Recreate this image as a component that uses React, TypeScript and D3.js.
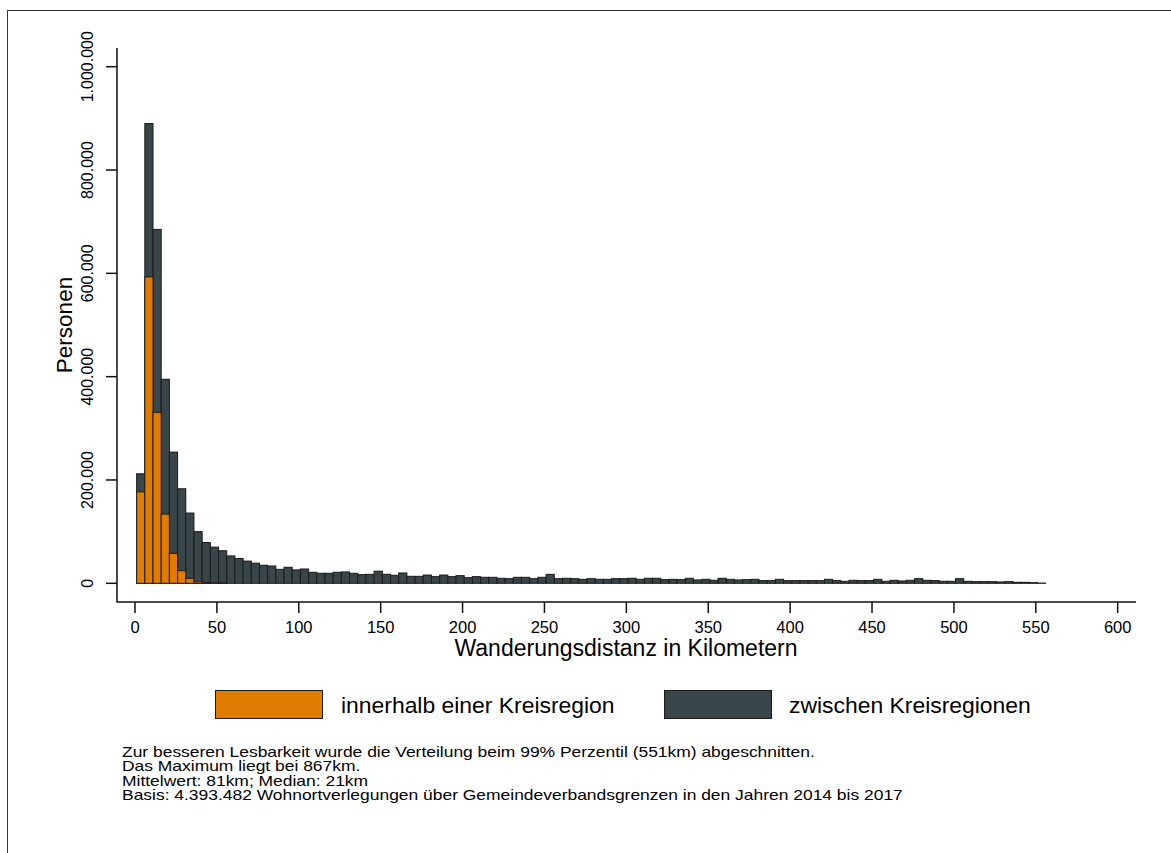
import React, { useEffect, useRef } from "react";
import * as d3 from "d3";

// 5 km bins, first bin starts at 1 km, cut at the 99% percentile
const binStart = 1;
const binWidth = 5;

// all moves per bin (persons)
const totalValues = [
  212000, 890000, 685000, 395000, 254000, 183000, 136000, 100000, 79000, 70000,
  63000, 53000, 48000, 43000, 39000, 35000, 33500, 27000, 31000, 26000,
  27700, 21300, 19400, 19400, 21300, 22000, 19400, 16800, 17400, 23500,
  17400, 15500, 20000, 13500, 13500, 16000, 12900, 16000, 12900, 14800,
  10900, 12900, 11600, 11600, 9700, 9000, 11600, 11600, 9000, 11600,
  17400, 9000, 9700, 9000, 7700, 9000, 7700, 7700, 9000, 9000,
  9700, 7700, 9700, 9700, 7100, 7700, 7100, 9700, 6500, 7700,
  5800, 9700, 7700, 6500, 7100, 7700, 5200, 5200, 7700, 5200,
  5200, 5200, 5200, 5200, 7700, 5200, 3900, 5800, 5200, 5200,
  7700, 3900, 5800, 4500, 5800, 9000, 5800, 5200, 3900, 3900,
  9000, 3900, 3200, 3200, 3200, 2600, 3200, 1900, 1900, 1300,
  500,
];

// moves within one district region (persons)
const withinValues = [
  177000, 593000, 331000, 134000, 58000, 24400, 9700, 3000, 1500, 500, 300,
];

const xTicks = [0, 50, 100, 150, 200, 250, 300, 350, 400, 450, 500, 550, 600];
const yTicks = [0, 200000, 400000, 600000, 800000, 1000000];

const legendLabels = ["innerhalb einer Kreisregion", "zwischen Kreisregionen"];
const noteLines = [
  "Zur besseren Lesbarkeit wurde die Verteilung beim 99% Perzentil (551km) abgeschnitten.",
  "Das Maximum liegt bei 867km.",
  "Mittelwert: 81km; Median: 21km",
  "Basis: 4.393.482 Wohnortverlegungen über Gemeindeverbandsgrenzen in den Jahren 2014 bis 2017",
];

const ORANGE = "#e07c00";
const DARK = "#384549";
const FONT = "'Liberation Sans', Arial, sans-serif";

const deLocale = d3.formatLocale({
  decimal: ",",
  thousands: ".",
  grouping: [3],
  currency: ["", " €"],
});
const fmt = deLocale.format(",d");

const App: React.FC = () => {
  const svgRef = useRef<SVGSVGElement | null>(null);

  useEffect(() => {
    if (!svgRef.current) return;
    const width = 1171;
    const height = 853;
    const svg = d3.select(svgRef.current).attr("width", width).attr("height", height);
    svg.selectAll("*").remove();

    // outer frame (right/bottom edge lie outside the picture)
    svg.append("rect")
      .attr("x", 7.5).attr("y", 10.5)
      .attr("width", 1300).attr("height", 1000)
      .attr("fill", "white").attr("stroke", "#333").attr("stroke-width", 1);

    const x = d3.scaleLinear().domain([0, 600]).range([135, 1117.7]);
    const y = d3.scaleLinear().domain([0, 1000000]).range([583.3, 66.7]);

    const bars = (vals: number[], fill: string) => {
      svg.append("g")
        .selectAll("rect")
        .data(vals.map((v, i) => ({ v, i })).filter(d => d.v > 0))
        .join("rect")
        .attr("x", d => x(binStart + d.i * binWidth))
        .attr("width", d => x(binStart + (d.i + 1) * binWidth) - x(binStart + d.i * binWidth))
        .attr("y", d => y(d.v))
        .attr("height", d => y(0) - y(d.v))
        .attr("fill", fill)
        .attr("stroke", "#1b1b1b")
        .attr("stroke-width", 1);
    };
    bars(totalValues, DARK);
    bars(withinValues, ORANGE);

    // axes
    const axisX = 117;
    const axisY = 602;
    svg.append("path")
      .attr("d", `M${axisX},48V${axisY}H1136`)
      .attr("fill", "none").attr("stroke", "#111").attr("stroke-width", 1.5);

    const gy = svg.append("g");
    yTicks.forEach(t => {
      gy.append("line")
        .attr("x1", axisX - 11).attr("x2", axisX)
        .attr("y1", y(t)).attr("y2", y(t))
        .attr("stroke", "#111").attr("stroke-width", 1.5);
      gy.append("text")
        .attr("transform", `translate(${93},${y(t)}) rotate(-90)`)
        .attr("text-anchor", "middle")
        .attr("font-family", FONT).attr("font-size", 16)
        .text(fmt(t));
    });

    const gx = svg.append("g");
    xTicks.forEach(t => {
      gx.append("line")
        .attr("x1", x(t)).attr("x2", x(t))
        .attr("y1", axisY).attr("y2", axisY + 11)
        .attr("stroke", "#111").attr("stroke-width", 1.5);
      gx.append("text")
        .attr("x", x(t)).attr("y", 633)
        .attr("text-anchor", "middle")
        .attr("font-family", FONT).attr("font-size", 16.5)
        .text(String(t));
    });

    svg.append("text")
      .attr("x", 626).attr("y", 656)
      .attr("text-anchor", "middle")
      .attr("font-family", FONT).attr("font-size", 23)
      .text("Wanderungsdistanz in Kilometern");

    svg.append("text")
      .attr("transform", "translate(72,325) rotate(-90)")
      .attr("text-anchor", "middle")
      .attr("font-family", FONT).attr("font-size", 22.5)
      .text("Personen");

    // legend
    const legend = [
      { label: legendLabels[0], color: ORANGE, x: 215, tx: 341 },
      { label: legendLabels[1], color: DARK, x: 664, tx: 789 },
    ];
    legend.forEach(l => {
      svg.append("rect")
        .attr("x", l.x + 0.5).attr("y", 690.5)
        .attr("width", 107).attr("height", 28)
        .attr("fill", l.color).attr("stroke", "#1b1b1b").attr("stroke-width", 1);
      svg.append("text")
        .attr("x", l.tx).attr("y", 713)
        .attr("font-family", FONT).attr("font-size", 22.9)
        .text(l.label);
    });

    // notes (slightly wide lettering, as in the original export)
    const notes = svg.append("g").attr("transform", "translate(122,0) scale(1.22,1)");
    noteLines.forEach((line, i) => {
      notes.append("text")
        .attr("x", 0).attr("y", 757 + i * 14.5)
        .attr("font-family", FONT).attr("font-size", 14.3)
        .text(line);
    });
  }, []);

  return (
    <div style={{ position: "absolute", left: 0, top: 0 }}>
      <svg ref={svgRef} style={{ display: "block" }}></svg>
    </div>
  );
};

export default App;
